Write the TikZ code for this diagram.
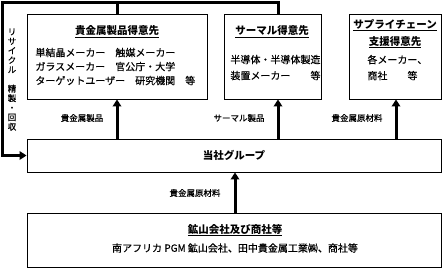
\documentclass[tikz,border=0pt]{standalone}
\usepackage{fontspec}
\setmainfont{Noto Sans CJK JP}
\newfontfamily\heavy{Noto Sans CJK JP}[FakeBold=0.5]
\usetikzlibrary{arrows.meta,positioning}

\begin{document}
\begin{tikzpicture}[x=1pt,y=-1pt,line width=0.9pt,
  box/.style={draw,inner sep=0pt},
  title/.style={inner sep=0pt,align=center,font=\bfseries\fontsize{10.5}{17}\selectfont},
  body/.style={inner sep=0pt,align=left,anchor=north west,font=\heavy\fontsize{10}{#1}\selectfont},
  lab/.style={inner sep=0pt,font=\heavy\fontsize{8.5}{10}\selectfont},
  flow/.style={line width=3pt,-{Triangle[length=7pt,width=8.5pt]}},
  bar/.style={line width=3pt}]
  \useasboundingbox (0,0) rectangle (443,268);
  \node[box,minimum width=180pt,minimum height=85pt] (prec) at (117,56.5) {};
  \node[box,minimum width=97pt,minimum height=85pt] (therm) at (272.5,56.5) {};
  \node[box,minimum width=92pt,minimum height=85pt] (supp) at (395,56.5) {};
  \node[box,minimum width=414pt,minimum height=33pt] (group) at (234,155.5) {};
  \node[box,minimum width=414pt,minimum height=54pt] (mine) at (234,240) {};

  \node[title] (precT) at (117,32) {\underline{貴金属製品得意先}};
  \node[body=14] (precB) at (35,47.5) {単結晶メーカー　触媒メーカー\\ガラスメーカー　官公庁・大学\\ターゲットユーザー　研究機関　等};
  \node[title] (thermT) at (272,32) {\underline{サーマル得意先}};
  \node[body=16] (thermB) at (230,54.5) {半導体・半導体製造\\装置メーカー　　等};
  \node[title] (suppT) at (395,33.5) {\underline{サプライチェーン}\\\underline{支援得意先}};
  \node[body=16] (suppB) at (367,54.5) {各メーカー、\\商社　　等};
  \node[title] (groupT) at (group) {当社グループ};
  \node[title] (mineT) at (235,230) {\underline{鉱山会社及び商社等}};
  \node[inner sep=0pt,font=\heavy\fontsize{10}{12}\selectfont] (mineB) at (235,248) {南アフリカ PGM 鉱山会社、田中貴金属工業㈱、商社等};

  \node[lab] (l1) at (82,118) {貴金属製品};
  \node[lab] (l2) at (239,118) {サーマル製品};
  \node[lab] (l3) at (357,118) {貴金属原材料};
  \node[lab] (l4) at (195,193) {貴金属原材料};
  \node[lab,align=center,font=\heavy\fontsize{8.5}{9.5}\selectfont] (recyc) at (12,79.5)
    {リ\\サ\\イ\\ク\\ル\\[9.5pt]精\\製\\・\\回\\収};

  \coordinate (rectop) at (2.5,2);
  \foreach \nd/\dx in {prec/0,therm/5.5,supp/1}
    \draw[flow] ([xshift=\dx pt]\nd.south |- group.north) -- ([xshift=\dx pt]\nd.south);
  \draw[flow] ([xshift=1pt]mine.north) -- ([xshift=1pt]group.south);
  \draw[flow] ([xshift=5.5pt]therm.north) |- (rectop) |- (group.west);
  \draw[bar] (prec.north) -- (prec.north |- rectop);
\end{tikzpicture}
\end{document}
